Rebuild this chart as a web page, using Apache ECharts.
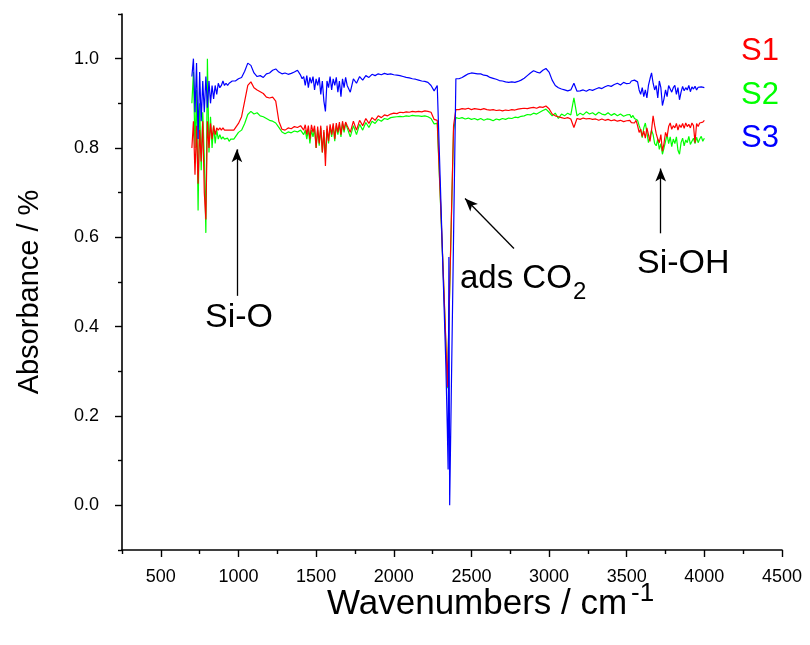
<!DOCTYPE html>
<html>
<head>
<meta charset="utf-8">
<script src="https://cdn.jsdelivr.net/npm/echarts@6/dist/echarts.min.js"></script>
<style>
html,body{margin:0;padding:0;background:#fff;}
#chart{width:810px;height:645px;}
</style>
</head>
<body>
<div id="chart"></div>
<script>
// ---- data ----
const wavenumbers = [
700,710,720,730,740,750,760,770,780,790,800,810,820,830,840,850,860,870,880,890,900,910,920,930,940,950,960,970,980,990,1000,
1020,1040,1060,1080,1100,1120,1140,1160,1180,1200,1220,1240,1260,1280,1300,1320,1340,1360,1380,1400,
1410,1420,1430,1440,1450,1460,1470,1480,1490,1500,1510,1520,1530,1540,1550,1560,1570,1580,1590,1600,1610,1620,1630,1640,1650,1660,1670,1680,1690,1700,
1720,1740,1760,1780,1800,1820,1840,1860,1880,1900,1920,1940,1960,1980,2000,2020,2040,2060,2080,2100,2120,2140,2160,2180,2200,2220,2240,2260,2280,
2300,2320,2335,2345,2350,2355,2360,2370,2385,2400,
2420,2440,2460,2480,2500,2520,2540,2560,2580,2600,2620,2640,2660,2680,2700,2720,2740,2760,2780,2800,2820,2840,2860,2880,2900,2920,2940,2960,2980,3000,
3020,3040,3060,3080,3100,3120,3140,3160,3180,3200,3220,3240,3260,3280,3300,3320,3340,3360,3380,3400,3420,3440,3460,3480,3500,
3510,3520,3530,3540,3550,3560,3570,3580,3590,3600,3610,3620,3630,3640,3650,3660,3670,3680,3690,3700,
3710,3720,3730,3740,3750,3760,3770,3780,3790,3800,3810,3820,3830,3840,3850,3860,3870,3880,3890,3900,
3910,3920,3930,3940,3950,3960,3970,3980,3990,4000
];
const s1 = [
0.80,0.86,0.74,0.85,0.72,0.84,0.77,0.86,0.70,0.64,0.86,0.80,0.855,0.82,0.85,0.83,0.845,0.84,0.845,0.84,0.845,0.84,0.838,0.84,0.836,0.84,0.838,0.84,0.845,0.85,0.855,
0.87,0.905,0.94,0.948,0.935,0.93,0.926,0.922,0.914,0.912,0.914,0.905,0.86,0.842,0.84,0.845,0.843,0.848,0.846,0.85,
0.848,0.84,0.852,0.83,0.85,0.82,0.852,0.835,0.85,0.80,0.848,0.81,0.85,0.79,0.84,0.76,0.85,0.815,0.853,0.83,0.855,0.82,0.856,0.835,0.858,0.83,0.86,0.84,0.858,0.85,
0.835,0.86,0.84,0.862,0.85,0.866,0.855,0.868,0.862,0.872,0.868,0.874,0.872,0.876,0.878,0.877,0.88,0.879,0.881,0.88,0.882,0.881,0.882,0.881,0.883,0.882,0.88,0.864,0.862,
0.69,0.51,0.37,0.265,0.34,0.41,0.485,0.63,0.85,0.886,
0.886,0.888,0.887,0.889,0.886,0.888,0.887,0.886,0.888,0.886,0.885,0.886,0.884,0.885,0.883,0.885,0.884,0.886,0.885,0.887,0.888,0.889,0.888,0.89,0.891,0.889,0.892,0.891,0.894,0.888,
0.876,0.872,0.87,0.868,0.866,0.868,0.865,0.846,0.866,0.864,0.867,0.865,0.866,0.864,0.865,0.862,0.865,0.862,0.864,0.861,0.863,0.86,0.862,0.859,0.861,
0.858,0.862,0.857,0.86,0.856,0.862,0.85,0.835,0.842,0.826,0.838,0.822,0.845,0.83,0.815,0.84,0.872,0.85,0.832,0.82,
0.812,0.83,0.793,0.81,0.835,0.825,0.848,0.856,0.842,0.85,0.845,0.855,0.84,0.852,0.846,0.855,0.844,0.856,0.848,0.853,
0.845,0.856,0.85,0.812,0.855,0.848,0.856,0.852,0.858,0.862
];
const s2 = [
0.90,0.97,0.80,0.93,0.66,0.90,0.75,0.88,0.78,0.61,1.0,0.79,0.87,0.80,0.85,0.81,0.84,0.82,0.83,0.82,0.825,0.82,0.818,0.822,0.815,0.82,0.817,0.82,0.825,0.83,0.835,
0.84,0.855,0.875,0.882,0.876,0.879,0.872,0.87,0.866,0.862,0.86,0.856,0.846,0.836,0.832,0.836,0.834,0.838,0.836,0.84,
0.838,0.83,0.84,0.82,0.842,0.81,0.84,0.825,0.843,0.80,0.84,0.805,0.845,0.79,0.835,0.785,0.843,0.81,0.848,0.825,0.85,0.815,0.85,0.83,0.853,0.825,0.855,0.835,0.856,0.845,
0.825,0.85,0.83,0.853,0.84,0.857,0.846,0.86,0.855,0.864,0.86,0.866,0.864,0.868,0.869,0.87,0.871,0.87,0.872,0.871,0.873,0.872,0.872,0.871,0.872,0.87,0.866,0.854,0.855,
0.685,0.505,0.365,0.262,0.335,0.405,0.48,0.625,0.84,0.868,
0.866,0.868,0.865,0.867,0.864,0.866,0.863,0.866,0.862,0.865,0.864,0.861,0.865,0.863,0.866,0.864,0.867,0.866,0.869,0.868,0.871,0.872,0.875,0.874,0.878,0.876,0.88,0.884,0.887,0.88,
0.872,0.878,0.866,0.876,0.872,0.878,0.874,0.912,0.872,0.878,0.874,0.881,0.876,0.879,0.874,0.88,0.876,0.874,0.879,0.873,0.877,0.872,0.876,0.871,0.874,
0.87,0.875,0.868,0.873,0.866,0.87,0.862,0.85,0.84,0.823,0.845,0.856,0.835,0.812,0.825,0.84,0.83,0.81,0.805,0.82,
0.797,0.81,0.786,0.8,0.815,0.83,0.81,0.825,0.803,0.82,0.81,0.825,0.795,0.786,0.812,0.822,0.805,0.818,0.812,0.826,
0.808,0.815,0.822,0.81,0.824,0.812,0.82,0.826,0.815,0.822
];
const s3 = [
0.96,1.0,0.88,0.99,0.82,0.97,0.86,0.95,0.88,0.96,0.89,0.95,0.90,0.94,0.91,0.94,0.92,0.945,0.935,0.94,0.95,0.94,0.945,0.94,0.945,0.945,0.95,0.948,0.95,0.952,0.955,
0.958,0.972,0.99,0.985,0.968,0.96,0.962,0.958,0.966,0.968,0.974,0.977,0.97,0.966,0.968,0.965,0.967,0.97,0.974,0.963,
0.955,0.96,0.94,0.962,0.935,0.958,0.945,0.96,0.93,0.955,0.94,0.958,0.92,0.95,0.905,0.882,0.95,0.935,0.96,0.93,0.955,0.94,0.958,0.925,0.95,0.915,0.955,0.935,0.958,0.94,
0.925,0.955,0.945,0.96,0.952,0.962,0.958,0.965,0.962,0.966,0.964,0.967,0.965,0.966,0.964,0.963,0.962,0.96,0.958,0.957,0.955,0.954,0.952,0.95,0.949,0.947,0.94,0.928,0.94,
0.72,0.49,0.32,0.17,0.08,0.556,0.0,0.24,0.6,0.955,
0.955,0.958,0.962,0.966,0.968,0.967,0.966,0.966,0.963,0.962,0.958,0.956,0.954,0.951,0.95,0.948,0.947,0.948,0.947,0.949,0.952,0.956,0.962,0.968,0.973,0.97,0.968,0.974,0.978,0.97,
0.952,0.94,0.935,0.932,0.93,0.928,0.93,0.945,0.927,0.928,0.93,0.927,0.931,0.929,0.932,0.935,0.933,0.937,0.94,0.938,0.942,0.945,0.941,0.947,0.944,
0.948,0.945,0.95,0.947,0.952,0.955,0.948,0.93,0.92,0.935,0.915,0.93,0.912,0.94,0.955,0.968,0.945,0.93,0.94,0.912,
0.95,0.935,0.895,0.91,0.93,0.915,0.94,0.943,0.925,0.935,0.94,0.92,0.935,0.908,0.925,0.938,0.928,0.935,0.93,0.94,
0.926,0.937,0.932,0.938,0.93,0.936,0.933,0.937,0.934,0.935
];
const seriesNames = ['S1','S2','S3'];
const seriesColors = ['#ff0000','#00ff00','#0000ff'];
const xMajorTicks = [500,1000,1500,2000,2500,3000,3500,4000,4500];
const xMinorTicks = [250,750,1250,1750,2250,2750,3250,3750,4250];
const yMajorTicks = [0,0.2,0.4,0.6,0.8,1.0];
const yMinorTicks = [-0.1,0.1,0.3,0.5,0.7,0.9,1.1];
const arrows = [
  {from:[990,0.469], to:[990,0.797]},
  {from:[2774,0.575], to:[2459,0.687]},
  {from:[3719,0.609], to:[3719,0.754]}
];

const FONT = '"Liberation Sans", Arial, sans-serif';

const chart = echarts.init(document.getElementById('chart'), null, {renderer:'canvas'});
const pairs = arr => wavenumbers.map((w,i)=>[w, arr[i]]);
const valuesBySeries = [s1, s2, s3];

const option = {
  animation:false,
  backgroundColor:'#ffffff',
  grid:{left:122, right:28, top:14, bottom:95, containLabel:false},
  xAxis:[
    {type:'value', min:250, max:4500, position:'bottom',
     splitLine:{show:false},
     axisLine:{show:true, onZero:false, lineStyle:{color:'#000', width:1.6}},
     axisTick:{show:true, inside:false, length:7, customValues:xMajorTicks, lineStyle:{color:'#000', width:1.4}},
     axisLabel:{show:true, customValues:xMajorTicks, margin:18, color:'#000', fontSize:18, fontFamily:FONT,
       formatter:v=>String(v)}
    },
    {type:'value', min:250, max:4500, position:'bottom',
     splitLine:{show:false},
     axisLine:{show:false, onZero:false},
     axisTick:{show:true, inside:false, length:4, customValues:xMinorTicks, lineStyle:{color:'#000', width:1.4}},
     axisLabel:{show:false}
    }
  ],
  yAxis:[
    {type:'value', min:-0.1, max:1.1, position:'left',
     splitLine:{show:false},
     axisLine:{show:true, onZero:false, lineStyle:{color:'#000', width:1.6}},
     axisTick:{show:true, inside:false, length:7, customValues:yMajorTicks, lineStyle:{color:'#000', width:1.4}},
     axisLabel:{show:true, customValues:yMajorTicks, margin:23, color:'#000', fontSize:18, fontFamily:FONT,
       formatter:v=>v.toFixed(1)}
    },
    {type:'value', min:-0.1, max:1.1, position:'left',
     splitLine:{show:false},
     axisLine:{show:false, onZero:false},
     axisTick:{show:true, inside:false, length:4, customValues:yMinorTicks, lineStyle:{color:'#000', width:1.4}},
     axisLabel:{show:false}
    }
  ],
  series:[1,0,2].map((k,idx)=>({
    name:seriesNames[k], type:'line', xAxisIndex:0, yAxisIndex:0,
    data:pairs(valuesBySeries[k]),
    showSymbol:false, symbol:'none', z:2+idx,
    lineStyle:{color:seriesColors[k], width:1.2},
    itemStyle:{color:seriesColors[k]},
    silent:true,
    markLine: k===2 ? {
      silent:true, symbol:['none','arrow'], symbolSize:[8,13],
      label:{show:false},
      lineStyle:{color:'#000', width:1.3, type:'solid'},
      emphasis:{disabled:true},
      data:arrows.map(a=>[{coord:a.from},{coord:a.to}])
    } : undefined
  })),
  graphic:[
    {type:'text', x:30, y:292, rotation:Math.PI/2,
     style:{text:'Absorbance / %', font:'29px '+FONT, fill:'#000', align:'center', verticalAlign:'middle'}},
    {type:'text', x:327, y:604,
     style:{text:'Wavenumbers / cm', font:'35px '+FONT, fill:'#000', align:'left', verticalAlign:'middle'}},
    {type:'text', x:631, y:594,
     style:{text:'-1', font:'26px '+FONT, fill:'#000', align:'left', verticalAlign:'middle'}},
    {type:'text', x:205, y:318,
     style:{text:'Si-O', font:'34px '+FONT, fill:'#000', align:'left', verticalAlign:'middle'}},
    {type:'text', x:637, y:264,
     style:{text:'Si-OH', font:'34px '+FONT, fill:'#000', align:'left', verticalAlign:'middle'}},
    {type:'text', x:460, y:279,
     style:{text:'ads CO', font:'33px '+FONT, fill:'#000', align:'left', verticalAlign:'middle'}},
    {type:'text', x:573, y:292,
     style:{text:'2', font:'24px '+FONT, fill:'#000', align:'left', verticalAlign:'middle'}},
    {type:'text', x:741, y:51,
     style:{text:seriesNames[0], font:'31px '+FONT, fill:seriesColors[0], align:'left', verticalAlign:'middle'}},
    {type:'text', x:741, y:95,
     style:{text:seriesNames[1], font:'31px '+FONT, fill:seriesColors[1], align:'left', verticalAlign:'middle'}},
    {type:'text', x:741, y:138,
     style:{text:seriesNames[2], font:'31px '+FONT, fill:seriesColors[2], align:'left', verticalAlign:'middle'}}
  ]
};
chart.setOption(option);
</script>
</body>
</html>
